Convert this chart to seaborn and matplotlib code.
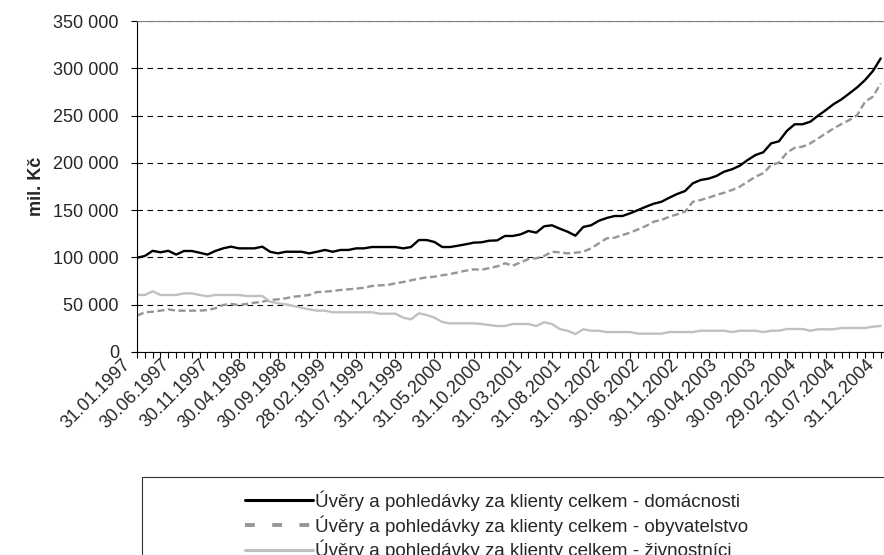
import numpy as np
import pandas as pd
import matplotlib
matplotlib.use("Agg")
import matplotlib.pyplot as plt
from matplotlib.ticker import FuncFormatter, MultipleLocator
from matplotlib.patches import Rectangle
from matplotlib.lines import Line2D
from matplotlib.transforms import ScaledTranslation
import seaborn as sns

# monthly values, 31.01.1997 - 31.12.2004 (mil. Kc)
domacnosti = [99700, 101500, 107000, 105400, 107000, 103000, 106800, 106800, 105000, 103000,
              106800, 109600, 111400, 109600, 109600, 109600, 111400, 106000, 104300, 106000,
              106000, 106000, 104300, 106000, 107900, 106000, 107900, 107900, 109600, 109600,
              111000, 111000, 111000, 111000, 109600, 111000, 118400, 118400, 116300, 111000,
              111000, 112400, 113900, 115600, 116000, 117700, 118000, 122700, 122700, 124400,
              128000, 126200, 132900, 134000, 130400, 127200, 123000, 132200, 134000, 138800,
              141700, 143800, 143800, 146700, 150100, 153600, 156800, 158900, 163200, 167100,
              170200, 178400, 181900, 183300, 186100, 190700, 193200, 197000, 203000, 208300,
              211200, 220600, 222800, 233700, 240800, 240800, 243500, 249900, 255900, 262200,
              267200, 273500, 279900, 287600, 297100, 310500]

obyvatelstvo = [38400, 42000, 42600, 43700, 45100, 43700, 43700, 43700, 43700, 44400,
                46200, 49700, 50800, 49700, 50800, 52100, 53200, 55000, 55700, 56800,
                58500, 59200, 60300, 63400, 63800, 64500, 65600, 66300, 67000, 68000,
                69800, 70500, 70800, 72600, 74000, 75800, 77500, 79000, 79600, 81100,
                82500, 84200, 86000, 87400, 87000, 88700, 90500, 93800, 91300, 94800,
                98300, 99100, 101500, 106000, 105400, 104300, 105000, 106000, 109600, 114900,
                120200, 120900, 123700, 126200, 129700, 133200, 137800, 139600, 143100, 145600,
                148400, 158900, 160700, 163200, 166000, 168400, 171300, 174800, 180100, 185400,
                189000, 197700, 200200, 210700, 216000, 217100, 220600, 225900, 231200, 236500,
                241100, 245300, 250600, 264700, 270000, 284100]

zivnostnici = [60300, 60300, 64200, 60300, 60300, 60300, 62000, 62000, 60300, 58900,
               60300, 60300, 60300, 60300, 59200, 59200, 59200, 53200, 51500, 50400,
               48600, 46800, 45100, 43700, 43700, 42000, 42000, 42000, 42000, 42000,
               42000, 40500, 40500, 40500, 36300, 34500, 40900, 39100, 36300, 31700,
               30300, 30300, 30300, 30300, 29600, 28500, 27500, 27500, 29600, 29600,
               29600, 27500, 31400, 29600, 24300, 22500, 19000, 24000, 22500, 22500,
               21100, 21100, 21100, 21100, 19400, 19400, 19400, 19400, 21100, 21100,
               21100, 21100, 22500, 22500, 22500, 22500, 21100, 22500, 22500, 22500,
               21100, 22500, 22500, 24300, 24300, 24300, 22500, 24000, 24000, 24000,
               25400, 25400, 25400, 25400, 26800, 27500]

tick_labels = ["31.01.1997", "30.06.1997", "30.11.1997", "30.04.1998", "30.09.1998",
               "28.02.1999", "31.07.1999", "31.12.1999", "31.05.2000", "31.10.2000",
               "31.03.2001", "31.08.2001", "31.01.2002", "30.06.2002", "30.11.2002",
               "30.04.2003", "30.09.2003", "29.02.2004", "31.07.2004", "31.12.2004"]

series_names = ["Úvěry a pohledávky za klienty celkem - domácnosti",
                "Úvěry a pohledávky za klienty celkem - obyvatelstvo",
                "Úvěry a pohledávky za klienty celkem - živnostníci"]

df = pd.DataFrame({"month": np.arange(len(domacnosti)),
                   series_names[0]: domacnosti,
                   series_names[1]: obyvatelstvo,
                   series_names[2]: zivnostnici})

sns.set_style("white")
plt.rcParams['font.family'] = ['Liberation Sans', 'DejaVu Sans']

fig = plt.figure(figsize=(8.84, 5.55), dpi=100)
ax = fig.add_axes([137 / 884, (555 - 352) / 555, 750 / 884, 331 / 555])

colors = ["#000000", "#969696", "#c0c0c0"]
styles = ["-", (0, (3, 1.5)), "-"]
for name, c, ls in zip(series_names, colors, styles):
    sns.lineplot(data=df, x="month", y=name, ax=ax, color=c, linestyle=ls,
                 linewidth=1.7, legend=False)

ax.set_ylim(0, 350000)
ax.set_xlim(0, 95.8)
ax.yaxis.set_major_locator(MultipleLocator(50000))
ax.yaxis.set_major_formatter(FuncFormatter(lambda v, p: f"{int(v):,}".replace(",", " ")))
ax.set_xticks(np.arange(0, 96, 5))
ax.set_xticklabels(tick_labels, rotation=45, ha="right", va="center", rotation_mode="anchor")
ax.set_xticks(np.arange(0, 96, 1), minor=True)
ax.tick_params(axis="x", which="both", direction="out", length=4, width=0.8, color="black",
               bottom=True, labelsize=13, pad=3)
ax.tick_params(axis="y", direction="out", length=4, width=0.8, color="black", left=True,
               labelsize=13, pad=9)
shift = ScaledTranslation(-0.09, 0, fig.dpi_scale_trans)
for lab in ax.get_xticklabels():
    lab.set_transform(lab.get_transform() + shift)

ax.grid(axis="y", color="black", linestyle=(0, (5, 4)), linewidth=0.8)
ax.grid(axis="x", visible=False)
ax.spines["right"].set_visible(False)
ax.spines["top"].set_color("#808080")
ax.spines["left"].set_color("black")
ax.spines["bottom"].set_color("black")
ax.set_xlabel("")
ax.set_ylabel("mil. Kč", fontsize=13, fontweight="bold", labelpad=6)

# legend box
fig.patches.append(Rectangle((142 / 884, -0.1), 0.9, (555 - 477) / 555 + 0.1,
                             transform=fig.transFigure, fill=False,
                             edgecolor="#333333", linewidth=0.8))
handles = [Line2D([], [], color=c, linestyle=ls, linewidth=2.2) for c, ls in zip(colors, styles)]
handles[1] = Line2D([], [], color=colors[1], linestyle=(0, (2.5, 4.5)), linewidth=2.8)
fig.legend(handles, series_names, loc="upper left", bbox_to_anchor=(236 / 884, (555 - 481) / 555),
           frameon=False, fontsize=13.5, handlelength=3.6, handletextpad=0.1,
           labelspacing=0.22, borderpad=0)

fig.savefig("out.png", dpi=100)
